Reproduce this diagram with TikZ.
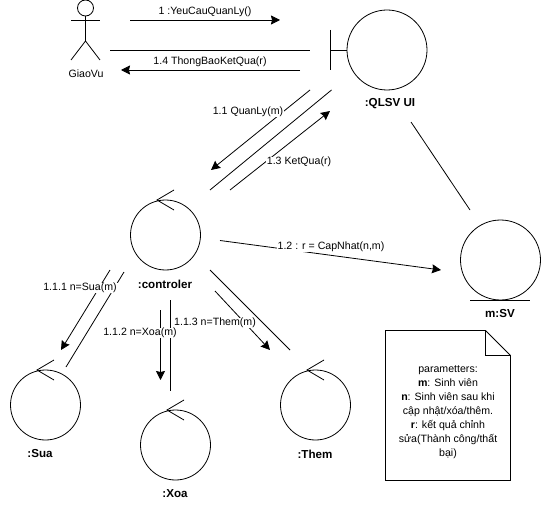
\documentclass[tikz,border=0pt]{standalone}
\usepackage{fontspec}
\setmainfont{Liberation Sans}
\usetikzlibrary{arrows.meta}
\tikzset{
  x=1pt,y=-1pt,
  conn/.style={draw,line width=0.8pt},
  msg/.style={draw,line width=0.8pt,-{Stealth[length=9pt,width=9pt,inset=1pt]}},
  lab/.style={fill=white,inner xsep=1pt,inner ysep=0.5pt,font=\fontsize{10.6}{12}\selectfont},
  plaintext/.style={inner sep=0pt,font=\fontsize{10.6}{12}\selectfont},
  objname/.style={inner sep=0pt,font=\fontsize{11.6}{12}\selectfont\bfseries},
  ctl/.style={circle,draw,line width=0.8pt,minimum size=70pt,inner sep=0pt},
  bigobj/.style={circle,draw,line width=0.8pt,minimum size=80pt,inner sep=0pt},
}
\begin{document}
\begin{tikzpicture}
\useasboundingbox (0,0) rectangle (541,508);
\fill[white] (0,0) rectangle (541,508);
% actor
\node[circle,draw,line width=0.8pt,minimum size=16pt,inner sep=0pt] (head) at (85.5,8) {};
\coordinate (hip) at (85.5,41);
\draw[conn] (head.south) -- (hip);
\coordinate (armL) at (71,20); \coordinate (armR) at (100,20);
\draw[conn] (armL) -- (armR);
\coordinate (legL) at (71,60); \coordinate (legR) at (100,60);
\draw[conn] (legL) -- (hip) -- (legR);
\node[plaintext] (giaovu) at (86,74) {GiaoVu};
% boundary
\node[bigobj] (qlsv) at (387,50) {};
\coordinate (bT) at (330.5,30); \coordinate (bB) at (330.5,70); \coordinate (bM) at (330.5,50);
\draw[conn] (bT) -- (bB);
\draw[conn] (bM) -- (qlsv.west);
\node[objname] (qlsvname) at (390,104) {:QLSV UI};
% controller objects
\node[ctl] (ctrl) at (165.5,235) {};
\coordinate (ctrlA) at (174,190); \coordinate (ctrlB) at (157,200); \coordinate (ctrlC) at (174,210);
\draw[conn] (ctrlA) -- (ctrlB) -- (ctrlC);
\node[objname] (ctrlname) at (165,284) {:controler};
\node[ctl] (sua) at (45.5,405) {};
\coordinate (suaA) at (54,360); \coordinate (suaB) at (37,370); \coordinate (suaC) at (54,380);
\draw[conn] (suaA) -- (suaB) -- (suaC);
\node[objname] (suaname) at (40,454) {:Sua};
\node[ctl] (xoa) at (175.5,445) {};
\coordinate (xoaA) at (184,400); \coordinate (xoaB) at (167,410); \coordinate (xoaC) at (184,420);
\draw[conn] (xoaA) -- (xoaB) -- (xoaC);
\node[objname] (xoaname) at (175,494) {:Xoa};
\node[ctl] (them) at (315.5,405) {};
\coordinate (themA) at (324,360); \coordinate (themB) at (307,370); \coordinate (themC) at (324,380);
\draw[conn] (themA) -- (themB) -- (themC);
\node[objname] (themname) at (315,454) {:Them};
% entity
\node[bigobj] (sv) at (500.5,260) {};
\coordinate (svL) at (470,300); \coordinate (svR) at (530,300);
\draw[conn] (svL) -- (svR);
\node[objname] (svname) at (500,314) {m:SV};
% free ends
\coordinate (m1s) at (130,20); \coordinate (m1e) at (280,20);
\coordinate (l1s) at (110,50); \coordinate (l1e) at (310,50);
\coordinate (m14s) at (300,70); \coordinate (m14e) at (121,70);
\coordinate (m11s) at (310,90); \coordinate (m11e) at (211,170);
\coordinate (l2s) at (331.5,90); \coordinate (l2e) at (210,190);
\coordinate (m13s) at (230,190); \coordinate (m13e) at (330,111);
\coordinate (l3s) at (411,122); \coordinate (l3e) at (470,210);
\coordinate (m12s) at (220,240.5); \coordinate (m12e) at (441,270);
\coordinate (m111s) at (110,270); \coordinate (m111e) at (61,350);
\coordinate (l4s) at (124,272); \coordinate (l4e) at (66,367);
\coordinate (m112s) at (160.5,310); \coordinate (m112e) at (160.5,380);
\coordinate (l5s) at (170.5,300); \coordinate (l5e) at (170.5,391);
\coordinate (l6s) at (210,270); \coordinate (l6e) at (290,350);
\coordinate (m113s) at (215,291); \coordinate (m113e) at (270,350);
% connectors
\draw[msg] (m1s) -- (m1e);
\draw[conn] (l1s) -- (l1e);
\draw[msg] (m14s) -- (m14e);
\draw[msg] (m11s) -- (m11e);
\draw[conn] (l2s) -- (l2e);
\draw[msg] (m13s) -- (m13e);
\draw[conn] (l3s) -- (l3e);
\draw[msg] (m12s) -- (m12e);
\draw[msg] (m111s) -- (m111e);
\draw[conn] (l4s) -- (l4e);
\draw[msg] (m112s) -- (m112e);
\draw[conn] (l5s) -- (l5e);
\draw[conn] (l6s) -- (l6e);
\draw[msg] (m113s) -- (m113e);
% labels
\node[lab] (t1) at (205,12) {1 :YeuCauQuanLy()};
\node[lab] (t14) at (210,62) {1.4 ThongBaoKetQua(r)};
\node[lab] (t11) at (248,112) {1.1 QuanLy(m)};
\node[lab] (t13) at (299,162) {1.3 KetQua(r)};
\node[lab] (t12) at (331,247) {1.2 : r = CapNhat(n,m)};
\node[lab] (t111) at (80,288) {1.1.1 n=Sua(m)};
\node[lab] (t113) at (215,323) {1.1.3 n=Them(m)};
\node[lab] (t112) at (140,333) {1.1.2 n=Xoa(m)};
% note
\coordinate (nTL) at (385.5,330.5); \coordinate (nF) at (485.5,330.5);
\coordinate (nR) at (510.5,355.5); \coordinate (nBR) at (510.5,480.5);
\coordinate (nBL) at (385.5,480.5); \coordinate (nC) at (485.5,355.5);
\draw[conn] (nTL) -- (nF) -- (nR) -- (nBR) -- (nBL) -- cycle;
\draw[conn] (nF) -- (nC) -- (nR);
\node[plaintext,align=center,font=\fontsize{10.6}{14}\selectfont] (note) at (448,412) {parametters:\\\textbf{m}: Sinh viên\\\textbf{n}: Sinh viên sau khi\\cập nhật/xóa/thêm.\\\textbf{r}: kết quả chỉnh\\sửa(Thành công/thất\\bại)};
\end{tikzpicture}
\end{document}
